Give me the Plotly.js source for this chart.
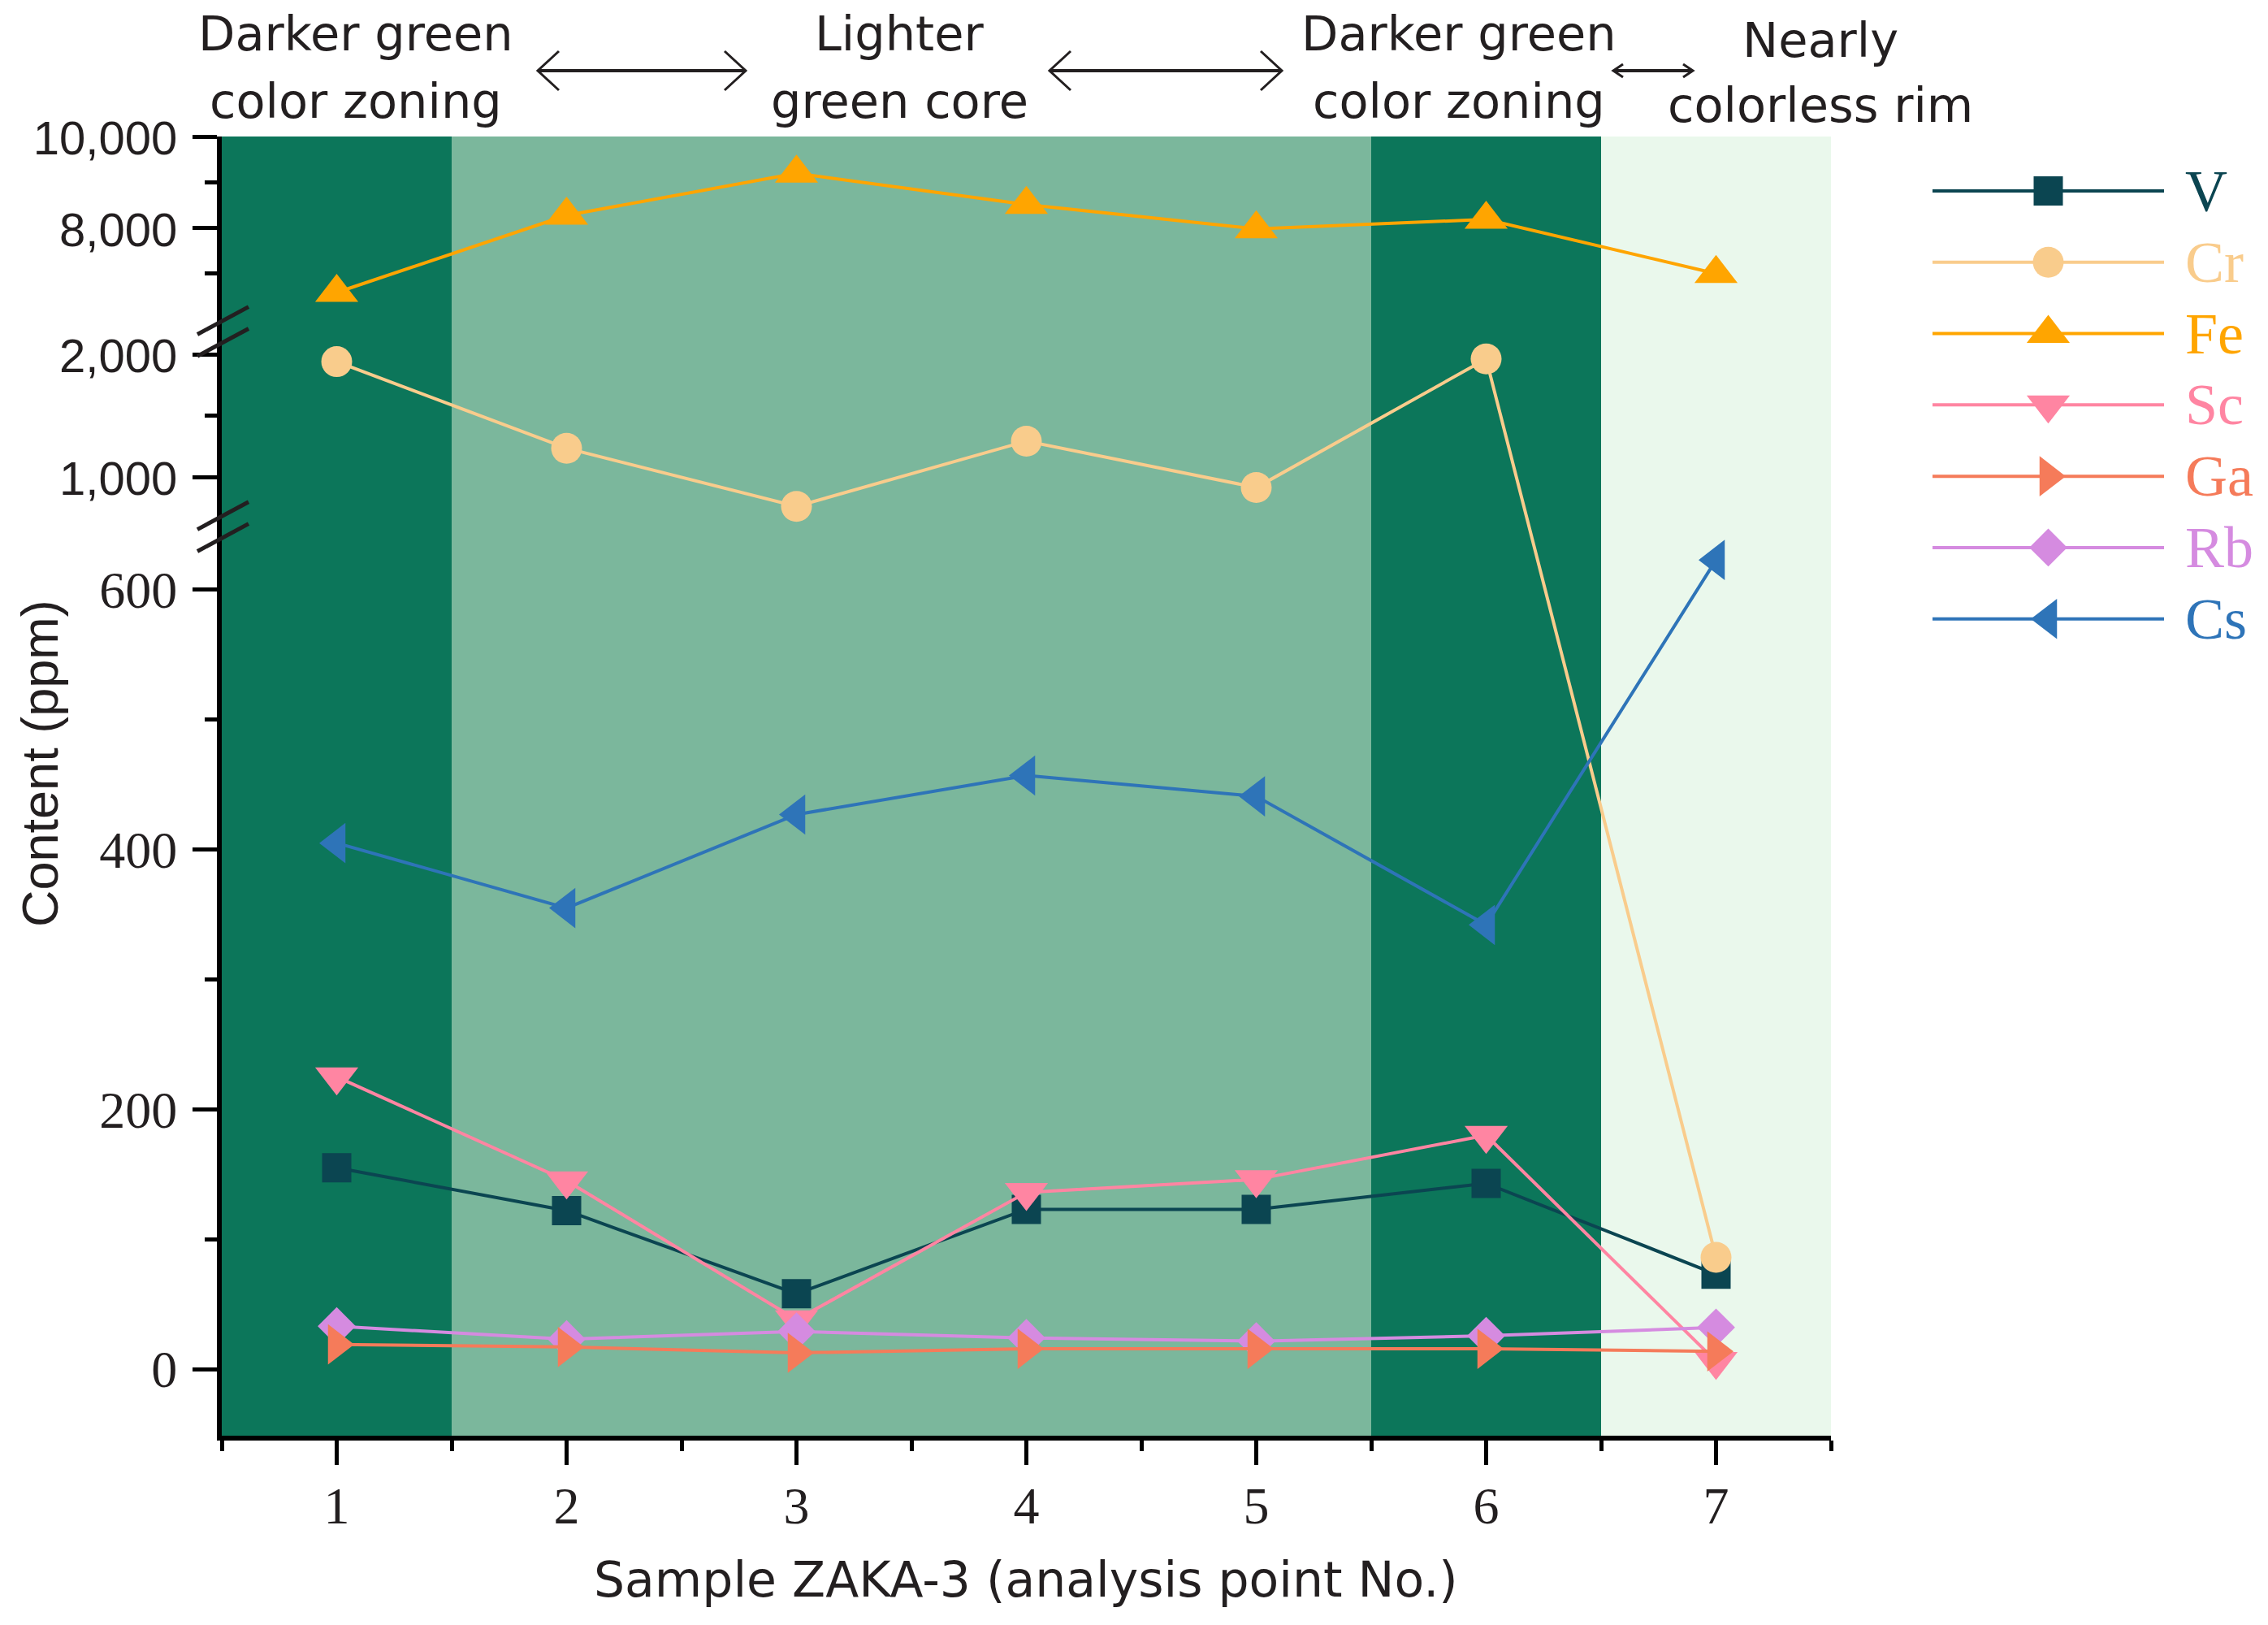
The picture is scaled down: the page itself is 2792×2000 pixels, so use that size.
<!DOCTYPE html>
<html>
<head>
<meta charset="utf-8">
<script src="https://cdn.plot.ly/plotly-3.0.1.min.js"></script>
<style>html,body{margin:0;padding:0;background:#fff}</style>
</head>
<body>
<div id="chart" style="width:2792px;height:2000px"></div>
<script>
// analysis points along the crystal
const points = [1, 2, 3, 4, 5, 6, 7];

// element contents (ppm)
const vValues  = [155, 122, 58, 123, 123, 143, 73];
const crValues = [1940, 1234, 760, 1292, 914, 1962, 86];
const feValues = [6590, 8277, 9195, 8513, 7980, 8188, 7004];
const scValues = [225, 145, 38, 136, 146, 180, 6];
const gaValues = [19, 17, 12.5, 15.6, 15.6, 15.6, 13.6];
const rbValues = [33, 23, 29, 24, 21.5, 25.6, 32];
const csValues = [405, 355, 427, 457, 441, 342, 623];

const yTickValues = [0, 200, 400, 600, 1000, 2000, 8000, 10000];
const yTickLabels = ['0', '200', '400', '600', '1,000', '2,000', '8,000', '10,000'];
const yMinorValues = [100, 300, 500, 1500, 7000, 9000];

// colour zones along the profile
const zoneEdges = [0.5, 1.5, 5.5, 6.5, 7.5];
const zoneColors = ['#0c765a', '#7bb79c', '#0c765a', '#eaf8ec'];
const zoneTitles = [
  ['Darker green', 'color zoning'],
  ['Lighter', 'green core'],
  ['Darker green', 'color zoning'],
  ['Nearly', 'colorless rim'],
];

const W = 2792, H = 2000;
const M = { l: 273, r: 40, t: 168, b: 233 };
const paperX = px => (px - M.l) / (W - M.l - M.r);
const paperY = py => (H - M.b - py) / (H - M.t - M.b);

// broken y axis: three linear segments glued together
function toAxis(v) {
  if (v <= 650) return v;
  if (v <= 3000) return 686.9 + (v - 1000) * 0.09446;
  return 878.6 + (v - 8000) * 0.03522;
}
const breaks = [648.7, 798.9];

const ink = '#231f20';
const serif = 'Liberation Serif, Times New Roman, serif';
const sans = 'Liberation Sans, Arial, sans-serif';
const wide = 'DejaVu Sans, Verdana, sans-serif';

const series = [
  { name: 'V',  y: vValues,  color: '#0b4551', symbol: 'square',         size: 36 },
  { name: 'Cr', y: crValues, color: '#f9cc8c', symbol: 'circle',         size: 38 },
  { name: 'Fe', y: feValues, color: '#ffa500', symbol: 'triangle-up',    size: 46 },
  { name: 'Sc', y: scValues, color: '#ff85a2', symbol: 'triangle-down',  size: 46 },
  { name: 'Ga', y: gaValues, color: '#f57b5a', symbol: 'triangle-right', size: 43 },
  { name: 'Rb', y: rbValues, color: '#d58be0', symbol: 'diamond',        size: 36 },
  { name: 'Cs', y: csValues, color: '#2e74b8', symbol: 'triangle-left',  size: 43 },
];
const drawOrder = ['V', 'Cr', 'Fe', 'Sc', 'Rb', 'Ga', 'Cs'];

const data = [];
drawOrder.forEach(n => {
  const s = series.find(d => d.name === n);
  data.push({
    x: points,
    y: s.y.map(toAxis),
    customdata: s.y,
    name: s.name,
    type: 'scatter',
    mode: 'lines+markers',
    line: { color: s.color, width: 4 },
    marker: { symbol: s.symbol, size: s.size, color: s.color, opacity: 1, line: { width: 0 } },
    hovertemplate: s.name + ': %{customdata} ppm<extra></extra>',
    showlegend: false,
  });
});

// hand-made legend with long line samples
series.forEach((s, i) => {
  data.push({
    x: [0, 1, 2],
    y: [i, i, i],
    xaxis: 'x2',
    yaxis: 'y2',
    type: 'scatter',
    mode: 'lines+markers',
    line: { color: s.color, width: 4 },
    marker: { symbol: s.symbol, size: [0, s.size, 0], color: s.color, opacity: 1, line: { width: 0 } },
    hoverinfo: 'skip',
    showlegend: false,
  });
});

const shapes = [];
zoneColors.forEach((c, i) => {
  shapes.push({
    type: 'rect', layer: 'below', xref: 'x', yref: 'paper',
    x0: zoneEdges[i], x1: zoneEdges[i + 1], y0: 0, y1: 1,
    fillcolor: c, line: { width: 0 },
  });
});
breaks.forEach(b => {
  [-8.4, 8.4].forEach(off => {
    shapes.push({
      type: 'line', layer: 'above', xref: 'paper', yref: 'y',
      x0: paperX(243), x1: paperX(306), y0: b + off - 10.6, y1: b + off + 10.6,
      line: { color: ink, width: 5 },
    });
  });
});

// double-headed arrows between the zone titles: [from, to, head depth, head half-height] in px
const arrows = [[662, 918, 26, 24], [1292, 1578, 26, 24], [1986, 2084, 12, 8]];
const arrowY = 87;
arrows.forEach(a => {
  const [x0, x1, d, h] = a;
  shapes.push({
    type: 'line', xref: 'paper', yref: 'paper',
    x0: paperX(x0 + 1), x1: paperX(x1 - 1), y0: paperY(arrowY), y1: paperY(arrowY),
    line: { color: ink, width: 4 },
  });
  [[x0, d], [x1, -d]].forEach(([tip, dd]) => {
    shapes.push({
      type: 'path', xref: 'paper', yref: 'paper',
      path: 'M' + paperX(tip + dd) + ',' + paperY(arrowY - h) +
            ' L' + paperX(tip) + ',' + paperY(arrowY) +
            ' L' + paperX(tip + dd) + ',' + paperY(arrowY + h),
      line: { color: ink, width: 3 },
    });
  });
});

const annotations = [];
const titleX = [438, 1107, 1796, 2241];
const titleY = [[41, 125], [41, 125], [41, 125], [50, 130]];
zoneTitles.forEach((lines, i) => {
  lines.forEach((t, j) => {
    annotations.push({
      text: t, xref: 'paper', yref: 'paper',
      x: paperX(titleX[i]), y: paperY(titleY[i][j]),
      xanchor: 'center', yanchor: 'middle', showarrow: false,
      font: { family: wide, size: 59, color: ink },
    });
  });
});
series.forEach((s, i) => {
  annotations.push({
    text: s.name, xref: 'paper', yref: 'y2',
    x: paperX(2688), y: i, xanchor: 'left', yanchor: 'middle',
    showarrow: false, font: { family: serif, size: 72, color: s.color },
  });
});
annotations.push({
  text: 'Content (ppm)', xref: 'paper', yref: 'paper',
  x: paperX(49), y: paperY(940), textangle: -90,
  xanchor: 'center', yanchor: 'middle', showarrow: false,
  font: { family: sans, size: 63, color: ink },
});
annotations.push({
  text: 'Sample ZAKA-3 (analysis point No.)', xref: 'paper', yref: 'paper',
  x: paperX(1263), y: paperY(1944),
  xanchor: 'center', yanchor: 'middle', showarrow: false,
  font: { family: wide, size: 60, color: ink },
});

const yTickText = yTickLabels.map((t, i) =>
  yTickValues[i] >= 1000
    ? '<span style="font-family:Liberation Sans, Arial, sans-serif;font-size:58px">' + t + '</span>'
    : t);

const layout = {
  width: W,
  height: H,
  margin: M,
  paper_bgcolor: '#fff',
  plot_bgcolor: '#fff',
  showlegend: false,
  hovermode: 'closest',
  xaxis: {
    domain: [0, 1981 / (W - M.l - M.r)],
    range: [0.5, 7.5],
    tickvals: points,
    ticktext: points.map(String),
    tickfont: { family: serif, size: 64, color: ink },
    showline: true, linewidth: 6, linecolor: '#000',
    ticks: 'outside', ticklen: 30, tickwidth: 5, tickcolor: '#000',
    ticklabelstandoff: -5,
    minor: { tickvals: zoneEdges.concat([2.5, 3.5, 4.5]), ticks: 'outside', ticklen: 13, tickwidth: 5, tickcolor: '#000' },
    showgrid: false, zeroline: false, fixedrange: true,
  },
  yaxis: {
    domain: [0, 1],
    range: [-51.3, toAxis(10000) + 0.01],
    tickvals: yTickValues.map(toAxis),
    ticktext: yTickText,
    tickfont: { family: serif, size: 64, color: ink },
    showline: true, linewidth: 6, linecolor: '#000',
    ticks: 'outside', ticklen: 30, tickwidth: 5, tickcolor: '#000',
    ticklabelstandoff: 6,
    minor: { tickvals: yMinorValues.map(toAxis), ticks: 'outside', ticklen: 15, tickwidth: 5, tickcolor: '#000' },
    showgrid: false, zeroline: false, fixedrange: true,
  },
  xaxis2: {
    domain: [paperX(2379), paperX(2664)],
    range: [0, 2], visible: false, anchor: 'y2', fixedrange: true,
  },
  yaxis2: {
    domain: [0, 1],
    range: [17.45, -0.763], visible: false, anchor: 'x2', fixedrange: true,
  },
  shapes: shapes,
  annotations: annotations,
};

Plotly.newPlot('chart', data, layout, { displayModeBar: false, responsive: false });
</script>
</body>
</html>
